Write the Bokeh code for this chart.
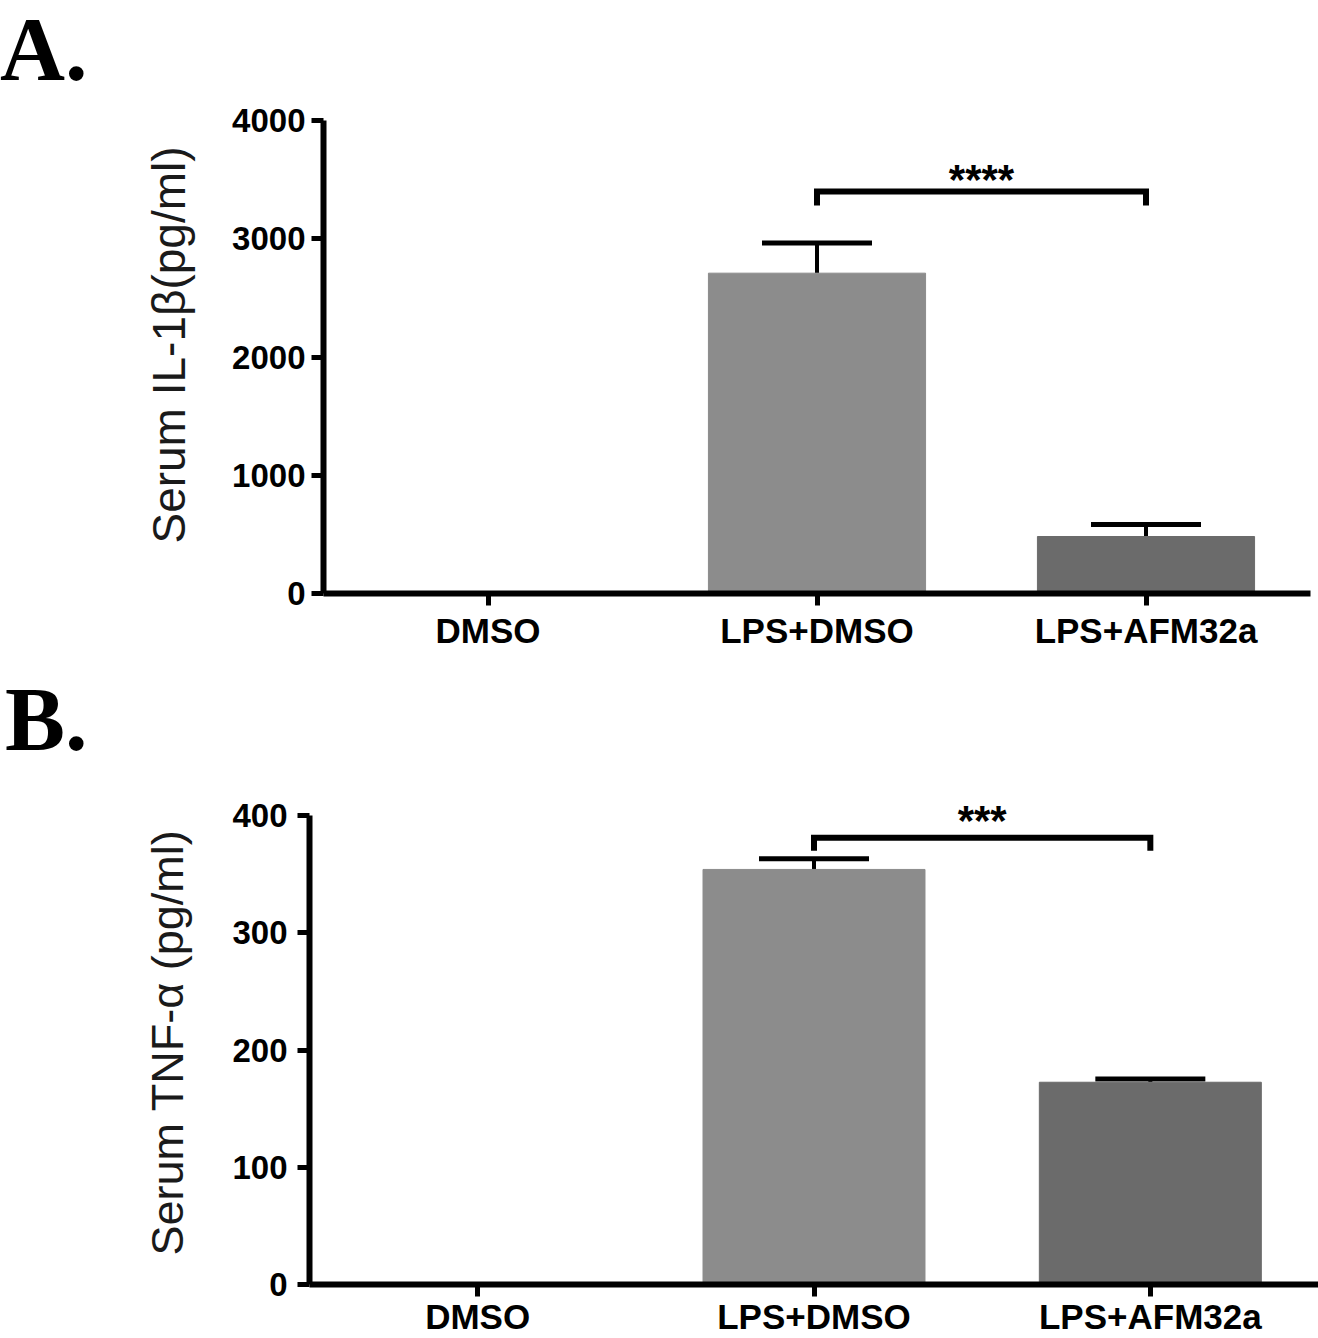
from bokeh.plotting import figure
from bokeh.layouts import column
from bokeh.models import Div, Whisker, TeeHead, ColumnDataSource, FactorRange, Range1d, FixedTicker
from bokeh.embed import file_html
from bokeh.resources import INLINE
from bokeh.core.properties import value

groups = ["DMSO", "LPS+DMSO", "LPS+AFM32a"]
bar_colors = ["#8c8c8c", "#8c8c8c", "#6b6b6b"]

il1b_mean = [0, 2709, 482]
il1b_sem = [0, 255, 101]
il1b_ticks = [0, 1000, 2000, 3000, 4000]
il1b_sig_y = 3400
il1b_sig_drop = 3281
il1b_star_y = 3500
il1b_sig_text = "****"

tnf_mean = [0, 354, 172.5]
tnf_sem = [0, 9.2, 2.8]
tnf_ticks = [0, 100, 200, 300, 400]
tnf_sig_y = 381
tnf_sig_drop = 370
tnf_star_y = 396
tnf_sig_text = "***"

FONT = "Liberation Sans"


def letter_div(text, pad_left):
    html = ('<div style="margin:0;padding:0 0 0 %dpx;font-family:\'Liberation Serif\';'
            'font-weight:bold;font-size:90px;line-height:100px;color:black;'
            'white-space:nowrap;">%s</div>' % (pad_left, text))
    return Div(text=html, width=1318, height=84, margin=0)


def panel(ylabel, means, sems, ticks, y_end, sig_y, sig_drop, star_y, sig_text,
          width, height, left, right, top, bottom, label_standoff, tick_standoff,
          xlabel_standoff, ylabel_size):
    p = figure(x_range=FactorRange(*groups, range_padding=0),
               y_range=Range1d(ticks[0], y_end),
               width=width, height=height,
               min_border_left=left, min_border_right=right,
               min_border_top=top, min_border_bottom=bottom,
               output_backend="svg", toolbar_location=None, tools="")
    p.outline_line_color = None
    p.grid.visible = False

    src = ColumnDataSource(dict(x=groups, top=means, color=bar_colors))
    p.vbar(x="x", top="top", width=0.66, source=src, fill_color="color",
           line_color="color")

    ex = [g for g, s in zip(groups, sems) if s > 0]
    em = [m for m, s in zip(means, sems) if s > 0]
    eu = [m + s for m, s in zip(means, sems) if s > 0]
    esrc = ColumnDataSource(dict(x=ex, lower=em, upper=eu))
    p.add_layout(Whisker(source=esrc, base="x", lower="lower", upper="upper",
                         dimension="height", line_width=4, line_color="black",
                         upper_head=TeeHead(size=110, line_width=5, line_color="black"),
                         lower_head=None))

    # significance bracket
    p.line(x=[groups[1], groups[1], groups[2], groups[2]],
           y=[sig_drop, sig_y, sig_y, sig_drop],
           line_width=6, line_color="black", line_join="miter", line_cap="butt")
    p.text(x=[(groups[1], 0.5)], y=[star_y], text=[sig_text],
           text_font=value(FONT), text_font_style="bold", text_font_size="42px",
           text_align="center", text_baseline="alphabetic", text_color="black")

    for ax in (p.xaxis[0], p.yaxis[0]):
        ax.axis_line_width = 6
        ax.axis_line_color = "black"
        ax.major_tick_line_width = 5
        ax.major_tick_line_color = "black"
        ax.major_tick_in = 0
        ax.major_tick_out = 12
        ax.minor_tick_line_color = None
        ax.major_label_text_font = FONT
        ax.major_label_text_font_style = "bold"
        ax.major_label_text_color = "black"

    p.yaxis.ticker = FixedTicker(ticks=ticks)
    p.yaxis.bounds = (ticks[0], ticks[-1])
    p.yaxis.major_label_text_font_size = "33px"
    p.yaxis.major_label_standoff = tick_standoff
    p.yaxis.axis_label = ylabel
    p.yaxis.axis_label_text_font = FONT
    p.yaxis.axis_label_text_font_style = "normal"
    p.yaxis.axis_label_text_font_size = ylabel_size
    p.yaxis.axis_label_text_color = "#1a1a1a"
    p.yaxis.axis_label_standoff = label_standoff

    p.xaxis.major_label_text_font_size = "35px"
    p.xaxis.major_label_standoff = xlabel_standoff
    return p


pa = panel("Serum IL-1β(pg/ml)", il1b_mean, il1b_sem, il1b_ticks, 4203,
           il1b_sig_y, il1b_sig_drop, il1b_star_y, il1b_sig_text,
           width=1318, height=586, left=323, right=8, top=12, bottom=77,
           label_standoff=34, tick_standoff=6, xlabel_standoff=5, ylabel_size="46px")
pb = panel("Serum TNF-α (pg/ml)", tnf_mean, tnf_sem, tnf_ticks, 412.8,
           tnf_sig_y, tnf_sig_drop, tnf_star_y, tnf_sig_text,
           width=1318, height=584, left=309, right=0, top=46, bottom=53,
           label_standoff=36, tick_standoff=10, xlabel_standoff=0, ylabel_size="45px")

layout = column(letter_div("A.", 0), column(pa), letter_div("B.", 5), column(pb),
                spacing=0)
open("out.html", "w").write(file_html(layout, INLINE))
